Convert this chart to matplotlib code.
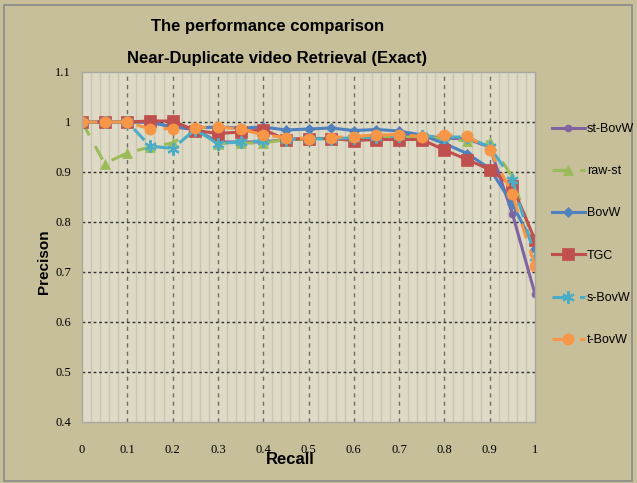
import matplotlib
matplotlib.use("Agg")
import matplotlib.pyplot as plt
import numpy as np
from matplotlib.patches import Rectangle

recall = [0, 0.05, 0.1, 0.15, 0.2, 0.25, 0.3, 0.35, 0.4, 0.45, 0.5,
          0.55, 0.6, 0.65, 0.7, 0.75, 0.8, 0.85, 0.9, 0.95, 1.0]

st_bovw = [1.0, 1.0, 1.0, 1.0, 0.99, 0.985, 0.96, 0.96, 0.96, 0.965, 0.967,
           0.967, 0.967, 0.97, 0.975, 0.972, 0.968, 0.966, 0.95, 0.817, 0.656]
raw_st = [1.0, 0.917, 0.938, 0.95, 0.958, 0.985, 0.957, 0.958, 0.958, 0.965, 0.965,
          0.967, 0.968, 0.97, 0.97, 0.97, 0.967, 0.962, 0.96, 0.89, 0.75]
bovw = [1.0, 1.0, 1.0, 1.0, 0.99, 0.988, 0.99, 0.988, 0.99, 0.984, 0.986,
        0.988, 0.983, 0.985, 0.982, 0.974, 0.957, 0.937, 0.907, 0.836, 0.747]
tgc = [1.0, 1.0, 1.0, 1.002, 1.002, 0.983, 0.977, 0.98, 0.985, 0.965, 0.967,
       0.967, 0.963, 0.965, 0.965, 0.965, 0.944, 0.925, 0.905, 0.872, 0.764]
s_bovw = [1.0, 1.0, 1.0, 0.952, 0.947, 0.985, 0.957, 0.96, 0.962, 0.965, 0.966,
          0.967, 0.968, 0.97, 0.972, 0.972, 0.97, 0.97, 0.95, 0.885, 0.73]
t_bovw = [1.0, 1.0, 1.0, 0.986, 0.987, 0.989, 0.99, 0.986, 0.974, 0.969, 0.967,
          0.969, 0.971, 0.974, 0.975, 0.971, 0.974, 0.973, 0.944, 0.856, 0.712]

xticks = [0, 0.1, 0.2, 0.3, 0.4, 0.5, 0.6, 0.7, 0.8, 0.9, 1]
xtick_labels = ["0", "0.1", "0.2", "0.3", "0.4", "0.5", "0.6", "0.7", "0.8", "0.9", "1"]
yticks = [0.4, 0.5, 0.6, 0.7, 0.8, 0.9, 1.0, 1.1]
ytick_labels = ["0.4", "0.5", "0.6", "0.7", "0.8", "0.9", "1", "1.1"]

fig_bg = "#c6bf9a"
ax_bg = "#dedac5"
sans = ["Liberation Sans", "DejaVu Sans"]
serif = ["Liberation Serif", "DejaVu Serif"]

fig = plt.figure(figsize=(6.37, 4.83), dpi=100, facecolor=fig_bg)
ax = fig.add_axes([82/637, 1-422/483, (535-82)/637, (422-72)/483])
ax.set_facecolor(ax_bg)

# grid
for xm in np.arange(0.02, 1.0, 0.02):
    if abs(round(xm*10) - xm*10) > 1e-6:
        ax.axvline(xm, color="#c9c5b3", lw=1.0, zorder=0)
for xv in xticks[1:-1]:
    ax.axvline(xv, color="#6e6e6e", lw=1.0, ls=(0, (3, 3)), zorder=0.5)
for yv in yticks[1:-1]:
    ax.axhline(yv, color="#303030", lw=1.0, ls=(0, (2, 2)), zorder=0.5)

series = [
    ("st-BovW", st_bovw, "#8064A2", "-", "o", 5),
    ("raw-st", raw_st, "#9BBB59", (0, (5, 4)), "^", 7),
    ("BovW", bovw, "#4F81BD", "-", "D", 5),
    ("TGC", tgc, "#C0504D", "-", "s", 8),
    ("s-BovW", s_bovw, "#4BACC6", (0, (5, 4)), (6, 2, 0), 9),
    ("t-BovW", t_bovw, "#F79646", (0, (5, 4)), "o", 8),
]
for name, vals, col, ls, mk, ms in series:
    ax.plot(recall, vals, color=col, ls=ls, lw=2.2, marker=mk, ms=ms,
            mec=col, mew=1.5 if mk == (6, 2, 0) else 0.5, label=name)

ax.set_xlim(0, 1)
ax.set_ylim(0.4, 1.1)
ax.set_xticks(xticks)
ax.set_xticklabels(xtick_labels, family=serif, fontsize=9)
ax.set_yticks(yticks)
ax.set_yticklabels(ytick_labels, family=serif, fontsize=9)
ax.tick_params(length=0)
ax.tick_params(axis="x", pad=16)
ax.tick_params(axis="y", pad=8)
for s in ax.spines.values():
    s.set_color("#a8a8a0")
    s.set_linewidth(1.0)

ax.set_xlabel("Recall", family=sans, fontsize=12, fontweight="bold")
ax.xaxis.set_label_coords((290-82)/453, (422-452)/350)
ax.set_ylabel("Precison", family=sans, fontsize=11, fontweight="bold")
ax.yaxis.set_label_coords((51-82)/453, (422-262)/350)

fig.text(268/637, 1-26/483, "The performance comparison", ha="center", va="center",
         family=sans, fontsize=12, fontweight="bold")
fig.text(277/637, 1-58/483, "Near-Duplicate video Retrieval (Exact)", ha="center", va="center",
         family=sans, fontsize=12, fontweight="bold")

leg = fig.legend(loc="upper left", bbox_to_anchor=(547/637, 1-118/483), frameon=False,
                 prop={"family": sans, "size": 9}, labelspacing=2.42,
                 handlelength=2.6, handletextpad=0.2, borderaxespad=0)

fig.patches.append(Rectangle((4/637, 2/483), 628/637, 476/483, transform=fig.transFigure,
                             fill=False, edgecolor="#8a8a8a", lw=1.2))

fig.savefig("out.png", dpi=100, facecolor=fig_bg)
